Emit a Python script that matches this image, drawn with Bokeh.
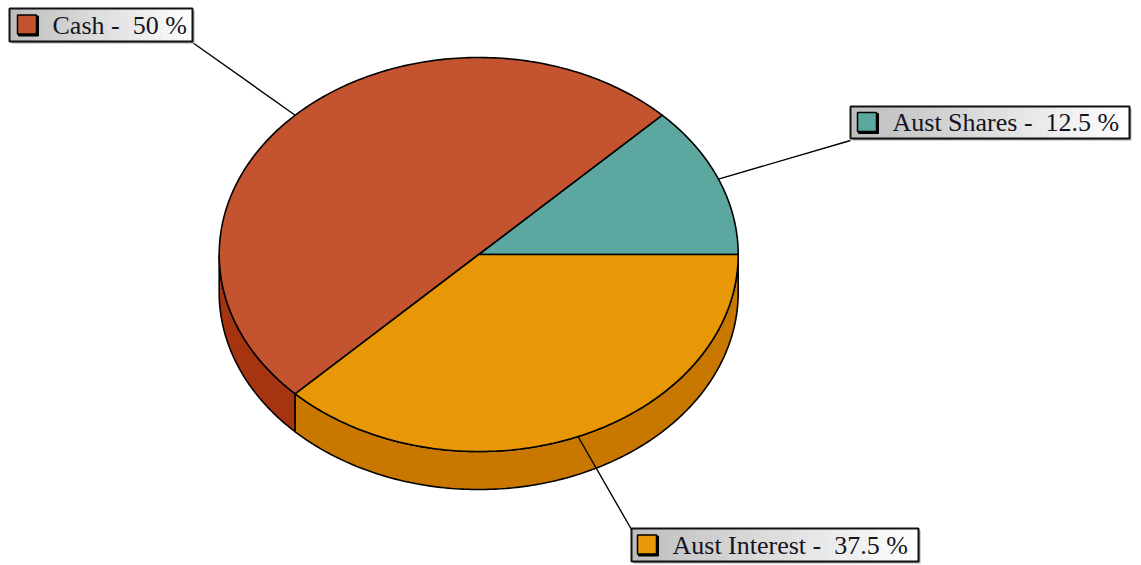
import numpy as np
from bokeh.plotting import figure
from bokeh.embed import file_html
from bokeh.resources import INLINE
from bokeh.core.properties import value

categories = ["Aust Shares", "Cash", "Aust Interest"]
shares = [12.5, 50, 37.5]
top_colors = ["#5CA7A0", "#C45430", "#E89707"]
side_colors = ["#3F8A83", "#A63410", "#C87800"]

W, H = 1141, 565
X0, Y0 = 0, 0
cx, cy, rx, ry, depth = 478.2, 254, 259.5, 197, 38

# label box layout: left, right, top, bottom, swatch left, leader attach x, y
boxes = [
    (850, 1129, 106, 138, 857, 850, 140),
    (9, 192, 8, 41, 17, 192, 42),
    (631, 918, 528, 561, 637, 631, 529),
]

p = figure(width=W, height=H, x_range=(X0, X0 + W), y_range=(Y0 + H, Y0),
           output_backend="svg", toolbar_location=None, min_border=0,
           outline_line_color=None,
           background_fill_color="white", border_fill_color="white")
p.axis.visible = False
p.grid.visible = False

edges = np.cumsum([0] + shares) / sum(shares) * 360.0


def pt(deg, dy=0.0):
    a = np.radians(deg)
    return cx + rx * np.cos(a), cy - ry * np.sin(a) + dy


# side walls: the visible front part of the disc, between 180 and 360 degrees
for i in range(len(shares)):
    lo, hi = max(edges[i], 180.0), edges[i + 1]
    if hi <= lo:
        continue
    t = np.linspace(lo, hi, 160)
    xt, yt = pt(t)
    xb, yb = pt(t[::-1], depth)
    p.patch(np.r_[xt, xb], np.r_[yt, yb], fill_color=side_colors[i],
            line_color="black", line_width=1.6)

# top face
for i in range(len(shares)):
    t = np.linspace(edges[i], edges[i + 1], 200)
    xt, yt = pt(t)
    p.patch(np.r_[cx, xt], np.r_[cy, yt], fill_color=top_colors[i],
            line_color="black", line_width=1.6)

# leaders from each slice's mid angle to its label
for i, b in enumerate(boxes):
    mx, my = pt((edges[i] + edges[i + 1]) / 2)
    p.line([mx, b[5]], [my, b[6]], line_color="black", line_width=1.4)

# labels
N = 70
for i, (l, r, t, b, sw, _, _) in enumerate(boxes):
    p.quad(left=l + 2, right=r + 2, top=t + 2, bottom=b + 2,
           fill_color="#a8a8a8", line_color=None)
    xs = np.linspace(l, r, N + 1)
    g = np.linspace(190, 255, N).astype(int)
    p.quad(left=xs[:-1], right=xs[1:] + 0.5, top=t, bottom=b,
           fill_color=[f"#{v:02x}{v:02x}{v:02x}" for v in g], line_color=None)
    p.quad(left=l, right=r, top=t, bottom=b, fill_color=None,
           line_color="#111111", line_width=2)
    my = (t + b) / 2
    p.quad(left=sw + 1, right=sw + 21, top=my - 9, bottom=my + 11,
           fill_color="black", line_color="black", line_width=1)
    p.quad(left=sw, right=sw + 19, top=my - 10, bottom=my + 9,
           fill_color=top_colors[i], line_color="black", line_width=1.5)
    txt = f"{categories[i]} -\u00a0\u00a0{shares[i]:g} %"
    p.text([sw + 35], [my], text=[txt], text_font=value("Liberation Serif"),
           text_font_size="26px", text_color="#14141e",
           text_baseline="middle", text_align="left")

open("out.html", "w").write(file_html(p, INLINE))
